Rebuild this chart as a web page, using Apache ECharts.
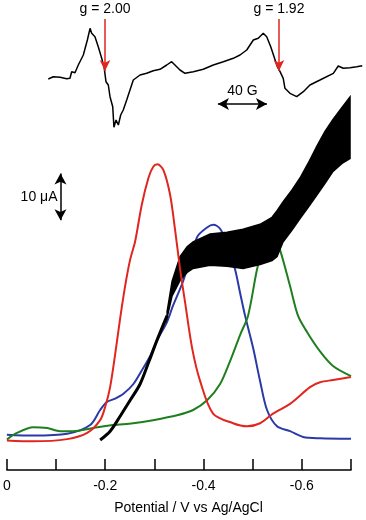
<!DOCTYPE html>
<html>
<head>
<meta charset="utf-8">
<script src="https://cdn.jsdelivr.net/npm/echarts@6/dist/echarts.min.js"></script>
<style>
  html, body { margin: 0; padding: 0; background: #fff; }
  #chart { width: 366px; height: 520px; }
</style>
</head>
<body>
<div id="chart"></div>
<script>
// EPR spectrum (field in G, signal in arbitrary units)
const eprField = [3323.7, 3327.8, 3333.3, 3338.7, 3341.4, 3342.8, 3345.5, 3348.2, 3352.3, 3355.6,
  3357.8, 3359.1, 3361.8, 3364.5, 3367.3, 3369.4, 3370.8, 3372.7, 3374.1, 3376.3,
  3377.3, 3379.0, 3380.9, 3382.8, 3384.9, 3387.7, 3390.4, 3393.1, 3398.6, 3404.0,
  3409.4, 3414.9, 3420.4, 3424.4, 3427.1, 3431.2, 3435.3, 3442.1, 3450.2, 3458.4,
  3466.6, 3474.7, 3480.2, 3485.7, 3491.1, 3495.1, 3499.2, 3502.0, 3505.3, 3508.0,
  3510.7, 3512.9, 3515.5, 3516.9, 3521.0, 3526.5, 3531.9, 3537.3, 3545.5, 3556.4,
  3560.4, 3564.5, 3570.0, 3575.5, 3580.0]
const eprSignal = [1, 3.3, 2.7, 1.3, 1.7, 8.3, 7.3, 15, 25, 40,
  51.7, 46.7, 43.3, 33.3, 21.7, 11.7, -1.7, -5, -16.7, -26.7,
  -47.3, -40, -45, -35, -30, -20, -10, 0, 5, 6.7,
  9.3, 10.7, 15, 18.3, 15, 10, 6.7, 8.3, 10.7, 15,
  18.3, 21.7, 25, 30, 40, 41.7, 46.7, 43.3, 33.3, 23.3,
  13.3, 8.3, 1.7, -8.3, -13.3, -16.7, -11.7, -5, 0, 6.7,
  14, 11.7, 12.3, 13.3, 14.3]
const gLabels = ['g = 2.00', 'g = 1.92']
const gFields = [3370, 3512]

// voltammograms (potential in V, current in uA)
const redV = [0, -0.0535, -0.1226, -0.1633, -0.1897, -0.1999, -0.2100, -0.2202, -0.2304, -0.2405,
  -0.2507, -0.2608, -0.2745, -0.2879, -0.2974, -0.3062, -0.3184, -0.3320, -0.3422, -0.3524,
  -0.3625, -0.3767, -0.3930, -0.4194, -0.4601, -0.4885, -0.5150, -0.5414, -0.5760, -0.6166,
  -0.6370, -0.6634, -0.7000]
const redI = [6.7, 6.5, 7.0, 8.4, 11.3, 14.3, 18.8, 26.2, 34.4, 41.7,
  47.7, 51.8, 60.2, 66.2, 68.7, 69.3, 68.0, 62.4, 54.4, 45.5,
  38.0, 27.7, 20.2, 12.8, 10.6, 9.9, 10.6, 12.8, 15.0, 18.8,
  19.9, 20.4, 21.1]
const blueV = [0, -0.0535, -0.1226, -0.1693, -0.1897, -0.2033, -0.2202, -0.2371, -0.2574, -0.2777,
  -0.2913, -0.3056, -0.3259, -0.3381, -0.3584, -0.3869, -0.4072, -0.4200, -0.4337, -0.4479,
  -0.4641, -0.4743, -0.4845, -0.5008, -0.5150, -0.5292, -0.5495, -0.5760, -0.6024, -0.6370,
  -0.7000]
const blueI = [8.0, 7.8, 8.2, 10.2, 13.6, 15.4, 16.2, 17.3, 19.5, 23.2,
  25.8, 29.4, 33.6, 37.3, 42.8, 52.8, 55.0, 55.6, 54.7, 51.3,
  45.5, 40.2, 35.0, 27.7, 20.2, 13.6, 9.9, 8.8, 7.5, 7.2,
  7.1]
const greenV = [0, -0.0203, -0.0535, -0.0819, -0.1084, -0.1348, -0.1755, -0.2161, -0.2568, -0.2974,
  -0.3462, -0.3788, -0.4072, -0.4337, -0.4540, -0.4743, -0.4906, -0.5089, -0.5211, -0.5353,
  -0.5475, -0.5556, -0.5760, -0.5922, -0.6105, -0.6370, -0.6634, -0.7000]
const greenI = [6.9, 8.4, 9.7, 9.5, 8.8, 8.8, 9.5, 10.2, 10.6, 11.3,
  12.4, 13.6, 15.8, 19.5, 24.7, 30.6, 35.0, 45.5, 50.2, 52.1,
  51.5, 49.9, 41.7, 35.0, 31.3, 26.9, 23.6, 21.3]
// black trace: rising foot, then an oscillating band (lower / upper envelope)
const blackFootV = [-0.1897, -0.2100, -0.2304, -0.2507, -0.2710, -0.2893, -0.3056, -0.3259]
const blackFootI = [6.8, 8.8, 12.2, 15.8, 19.5, 24.7, 29.5, 35.0]
const bandV = [-0.3259, -0.3361, -0.3523, -0.3666, -0.3788, -0.4133, -0.4479, -0.4804, -0.5150, -0.5394,
  -0.5496, -0.5617, -0.5800, -0.5963, -0.6126, -0.6309, -0.6471, -0.6634, -0.6817, -0.6980]
const bandLow = [34.6, 39.5, 43.0, 44.8, 45.7, 46.4, 46.2, 45.7, 46.6, 47.5,
  48.4, 51.7, 54.4, 57.0, 59.5, 62.4, 65.0, 67.7, 69.5, 70.6]
const bandHigh = [35.9, 42.8, 48.4, 50.6, 51.7, 53.5, 53.9, 54.6, 55.7, 57.3,
  58.8, 60.8, 63.5, 66.2, 69.5, 73.5, 76.8, 79.5, 82.2, 84.6]

const potentialTicks = [0, -0.2, -0.4, -0.6]

const RED = '#e0261e'
const BLUE = '#2a3aa6'
const GREEN = '#1f7f1f'
const FONT = 'Liberation Sans, Arial, sans-serif'

function pairs(xs, ys) {
  return xs.map((x, i) => [x, ys[i]])
}

const chart = echarts.init(document.getElementById('chart'), null, { renderer: 'canvas' })

chart.setOption({
  animation: false,
  textStyle: { fontFamily: FONT },
  grid: [
    { left: 7, right: 3.75, top: 0, bottom: 380 },
    { left: 6.7, right: 15, top: 90.7, bottom: 42.3 }
  ],
  xAxis: [
    { gridIndex: 0, type: 'value', min: 3290, max: 3580, show: false },
    {
      gridIndex: 1,
      type: 'value',
      min: -0.7,
      max: 0,
      interval: 0.1,
      inverse: true,
      splitLine: { show: false },
      axisLine: { onZero: false, lineStyle: { color: '#000', width: 1.5 } },
      axisTick: { inside: true, length: 11, lineStyle: { color: '#000', width: 1.5 } },
      axisLabel: {
        color: '#000',
        fontSize: 14,
        margin: 9,
        fontFamily: FONT,
        formatter(v) {
          const hit = potentialTicks.find(t => Math.abs(t - v) < 1e-6)
          if (hit === undefined) return ''
          return hit === 0 ? '0' : hit.toFixed(1)
        }
      },
      name: 'Potential / V vs Ag/AgCl',
      nameLocation: 'middle',
      nameGap: 31,
      nameTextStyle: { color: '#000', fontSize: 14, fontFamily: FONT, padding: [0, 0, 0, 19] }
    }
  ],
  yAxis: [
    { gridIndex: 0, type: 'value', min: -60, max: 80, show: false },
    { gridIndex: 1, type: 'value', min: 0, max: 86, show: false }
  ],
  series: [
    {
      name: 'EPR',
      type: 'line',
      xAxisIndex: 0,
      yAxisIndex: 0,
      data: pairs(eprField, eprSignal),
      showSymbol: false,
      lineStyle: { color: '#000', width: 1.5 },
      markLine: {
        silent: true,
        symbol: ['none', 'arrow'],
        symbolSize: [8, 11],
        lineStyle: { color: RED, width: 1.5, type: 'solid' },
        label: { show: true, position: 'start', distance: 3, color: '#000', fontSize: 14, fontFamily: FONT },
        data: gFields.map((f, i) => [
          { coord: [f, 61], name: gLabels[i], label: { formatter: gLabels[i] } },
          { coord: [f, 9] }
        ]).concat([[
          { coord: [3462.2, -24], symbol: 'arrow', symbolSize: [9, 11], label: { formatter: '40 G', position: 'insideMiddleTop', distance: 6 }, lineStyle: { color: '#000' } },
          { coord: [3502.2, -24], symbol: 'arrow', symbolSize: [9, 11], lineStyle: { color: '#000' } }
        ]])
      }
    },
    {
      name: 'scale',
      type: 'line',
      xAxisIndex: 1,
      yAxisIndex: 1,
      data: [],
      markLine: {
        silent: true,
        symbol: ['arrow', 'arrow'],
        symbolSize: [9, 11],
        lineStyle: { color: '#000', width: 1.5, type: 'solid' },
        label: { show: false },
        data: [[{ coord: [-0.109, 56.6] }, { coord: [-0.109, 67.2] }]]
      },
      markPoint: {
        silent: true,
        symbol: 'circle',
        symbolSize: 0,
        label: { show: true, position: 'left', distance: 3, color: '#000', fontSize: 14, fontFamily: FONT, formatter: '10 μA' },
        data: [{ coord: [-0.109, 61.8] }]
      }
    },
    {
      name: 'blue',
      type: 'line',
      xAxisIndex: 1,
      yAxisIndex: 1,
      data: pairs(blueV, blueI),
      smooth: 0.3,
      showSymbol: false,
      z: 2,
      lineStyle: { color: BLUE, width: 2 }
    },
    {
      name: 'green',
      type: 'line',
      xAxisIndex: 1,
      yAxisIndex: 1,
      data: pairs(greenV, greenI),
      smooth: 0.3,
      showSymbol: false,
      z: 2,
      lineStyle: { color: GREEN, width: 2 }
    },
    {
      name: 'blackFoot',
      type: 'line',
      xAxisIndex: 1,
      yAxisIndex: 1,
      data: pairs(blackFootV, blackFootI),
      smooth: 0.3,
      showSymbol: false,
      z: 3,
      lineStyle: { color: '#000', width: 3 }
    },
    {
      name: 'band',
      type: 'custom',
      xAxisIndex: 1,
      yAxisIndex: 1,
      z: 3,
      silent: true,
      data: [[bandV[0], bandLow[0]]],
      renderItem(params, api) {
        const upper = bandV.map((v, i) => api.coord([v, bandHigh[i]]))
        const lower = bandV.map((v, i) => api.coord([v, bandLow[i]])).reverse()
        return {
          type: 'polygon',
          shape: { points: upper.concat(lower) },
          style: { fill: '#000', stroke: '#000', lineWidth: 1.5 }
        }
      }
    },
    {
      name: 'red',
      type: 'line',
      xAxisIndex: 1,
      yAxisIndex: 1,
      data: pairs(redV, redI),
      smooth: 0.3,
      showSymbol: false,
      z: 4,
      lineStyle: { color: RED, width: 2 }
    }
  ]
})
</script>
</body>
</html>
